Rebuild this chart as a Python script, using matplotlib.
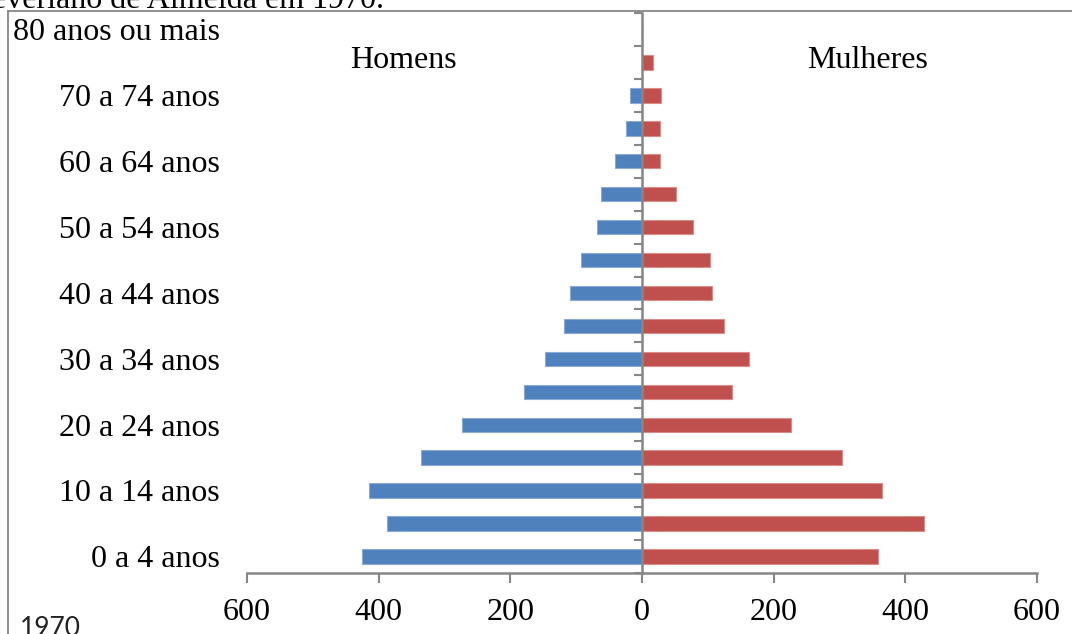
import matplotlib
matplotlib.use("Agg")
import matplotlib.pyplot as plt
from matplotlib.lines import Line2D
from matplotlib.ticker import FuncFormatter
import numpy as np

W, H = 1072, 634

# age groups, bottom to top
age_groups = ["0 a 4 anos", "5 a 9 anos", "10 a 14 anos", "15 a 19 anos", "20 a 24 anos",
              "25 a 29 anos", "30 a 34 anos", "35 a 39 anos", "40 a 44 anos", "45 a 49 anos",
              "50 a 54 anos", "55 a 59 anos", "60 a 64 anos", "65 a 69 anos", "70 a 74 anos",
              "75 a 79 anos", "80 anos ou mais"]
homens = [425, 388, 415, 335, 273, 180, 147, 118, 109, 93, 69, 62, 41, 25, 18, 0, 0]
mulheres = [359, 429, 364, 304, 227, 137, 163, 125, 106, 104, 78, 51, 28, 28, 29, 17, 0]
x_ticks = [-600, -400, -200, 0, 200, 400, 600]

BLUE = "#4F81BD"
RED = "#C0504D"
GRAY = "#868686"
SERIF = "Liberation Serif"
FS = 23

fig = plt.figure(figsize=(W / 100, H / 100), dpi=100)
ax = fig.add_axes([247 / W, (H - 573) / H, 790 / W, 560 / H])

y = np.arange(len(age_groups))
ax.barh(y, -np.array(homens), height=0.44, color=BLUE, edgecolor="#8AAAD4", linewidth=0.8, zorder=2)
ax.barh(y, mulheres, height=0.44, color=RED, edgecolor="#D98C8A", linewidth=0.8, zorder=2)

ax.set_xlim(-600, 600)
ax.set_ylim(-0.5, len(age_groups) - 0.5)

for s in ("top", "right"):
    ax.spines[s].set_visible(False)
ax.spines["left"].set_position(("data", 0))
ax.spines["left"].set_color(GRAY)
ax.spines["left"].set_linewidth(1.8)
ax.spines["left"].set_zorder(3)
ax.spines["bottom"].set_color(GRAY)
ax.spines["bottom"].set_linewidth(1.8)

ax.set_xticks(x_ticks)
ax.xaxis.set_major_formatter(FuncFormatter(lambda v, p: f"{abs(int(v))}"))
ax.tick_params(axis="x", direction="out", length=7, width=1.5, color=GRAY, pad=11,
               labelsize=FS)
for lbl in ax.get_xticklabels():
    lbl.set_fontfamily(SERIF)

ax.set_yticks(np.arange(-0.5, len(age_groups), 1.0))
ax.set_yticklabels([])
ax.tick_params(axis="y", direction="out", length=6, width=1.5, color=GRAY)

lab_tr = matplotlib.transforms.blended_transform_factory(ax.transAxes, ax.transData)
for i, name in enumerate(age_groups):
    if i % 2 == 0:
        ax.text(-27 / 790, i - 0.1, name, transform=lab_tr, ha="right", va="center",
                fontsize=FS, fontfamily=SERIF)

fig.text(403 / W, (H - 60) / H, "Homens", fontsize=FS, fontfamily=SERIF,
         ha="center", va="center")
fig.text(868 / W, (H - 60) / H, "Mulheres", fontsize=FS, fontfamily=SERIF,
         ha="center", va="center")

# header line cut by the top edge and year caption
fig.text(384 / W, (H - 8) / H, "de Severiano de Almeida em 1970.", fontsize=FS,
         fontfamily=SERIF, ha="right", va="baseline")
fig.text(20 / W, -2 / H, "1970", fontsize=19, fontfamily="Lato", ha="left", va="baseline",
         color="#222222")

# chart area border (top and left visible)
fig.add_artist(Line2D([8 / W, 8 / W], [-0.05, (H - 11) / H], transform=fig.transFigure,
                      color=GRAY, lw=1.3))
fig.add_artist(Line2D([8 / W, 1.05], [(H - 11) / H, (H - 11) / H], transform=fig.transFigure,
                      color=GRAY, lw=1.3))

fig.savefig("out.png", dpi=100)
